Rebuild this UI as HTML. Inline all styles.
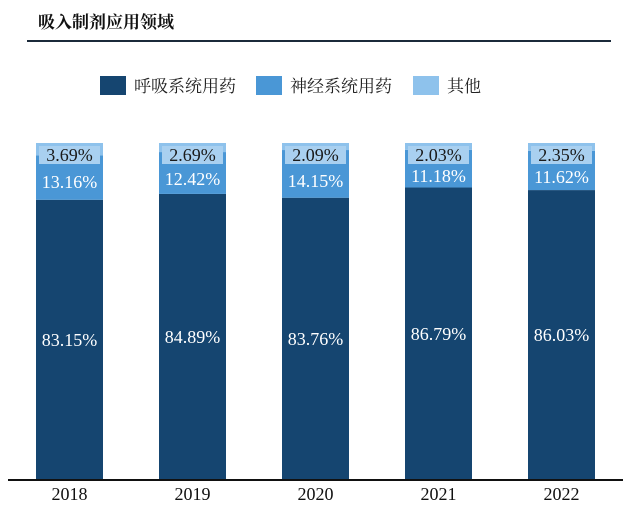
<!DOCTYPE html>
<html><head><meta charset="utf-8"><style>
body{margin:0;background:#fff;width:640px;height:506px;overflow:hidden;font-family:"Liberation Serif","Noto Serif CJK SC",serif}
</style></head><body>
<svg width="640" height="506">
<text x="38" y="28" font-size="17" font-weight="bold" fill="#111" font-family="'Noto Serif CJK SC',serif">吸入制剂应用领域</text>
<line x1="27" y1="41" x2="611" y2="41" stroke="#1b2a3a" stroke-width="2"/>
<g font-family="'Noto Serif CJK SC',serif" font-size="17" fill="#222">
<g><rect x="100" y="76" width="26" height="19" fill="#154570"/><text x="134" y="92">呼吸系统用药</text></g>
<g><rect x="256" y="76" width="26" height="19" fill="#4a97d6"/><text x="290" y="92">神经系统用药</text></g>
<g><rect x="413" y="76" width="26" height="19" fill="#8ec2ec"/><text x="447" y="92">其他</text></g>
</g>
<g id="bars"></g>
<line x1="8" y1="480" x2="623" y2="480" stroke="#111" stroke-width="2"/>
</svg>
<script>
const years=["2018","2019","2020","2021","2022"];
const resp=[83.15,84.89,83.76,86.79,86.03];
const neuro=[13.16,12.42,14.15,11.18,11.62];
const other=[3.69,2.69,2.09,2.03,2.35];
const svg=document.getElementById('bars');
const NS='http://www.w3.org/2000/svg';
const base=480, top0=143, H=base-top0;
function y(v){return base-v/100*H;}
function xc(i){return 69.5+i*123;}
const bw=67;
function mk(t,a){const e=document.createElementNS(NS,t);for(const k in a)e.setAttribute(k,a[k]);svg.appendChild(e);return e;}
years.forEach((yr,i)=>{
  const x=xc(i)-bw/2;
  const tot=resp[i]+neuro[i]+other[i];
  const yR=y(resp[i]), yN=y(resp[i]+neuro[i]), yO=y(tot);
  let r=mk('rect',{x:x,y:yR,width:bw,height:base-yR,fill:'#154570'});
  
  
  r=mk('rect',{x:x,y:yN,width:bw,height:yR-yN,fill:'#4a97d6'});
  
  
  r=mk('rect',{x:x,y:yO,width:bw,height:yN-yO,fill:'#8ec2ec'});
  
  
  let b=mk('rect',{x:x+3,y:yO+3,width:bw-6,height:18,fill:'#a9d0f0'});
  
  
  let t=mk('text',{x:xc(i),y:yO+18,'text-anchor':'middle','font-size':18,fill:'#1a1a1a'});
  t.textContent=other[i].toFixed(2)+'%';
  
  
  const nTop=Math.max(yN,yO+21);
  t=mk('text',{x:xc(i),y:(nTop+yR)/2+6,'text-anchor':'middle','font-size':18,fill:'#fff'});
  t.textContent=neuro[i].toFixed(2)+'%';
  
  
  t=mk('text',{x:xc(i),y:(yR+base)/2+6,'text-anchor':'middle','font-size':18,fill:'#fff'});
  t.textContent=resp[i].toFixed(2)+'%';
  
  
  t=mk('text',{x:xc(i),y:500,'text-anchor':'middle','font-size':18,fill:'#111'});
  t.textContent=yr;
  
  
});
</script>
</body></html>
